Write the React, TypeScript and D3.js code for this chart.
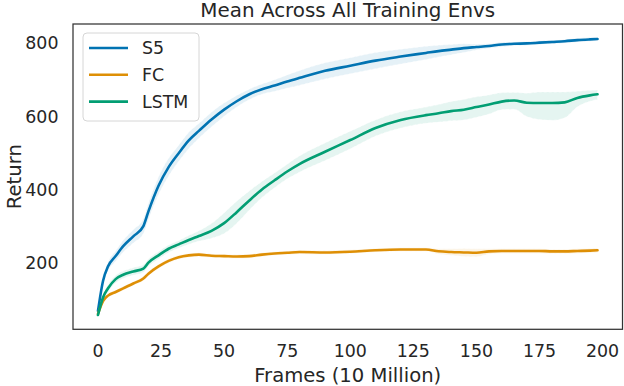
import React from "react";
import * as d3 from "d3";

const frames = [0, 2, 4, 7, 10, 14, 18, 20, 24, 28, 32, 36, 40, 45, 50, 55, 60, 65, 70, 75, 80, 90, 100, 110, 120, 130, 135, 140, 145, 150, 155, 160, 165, 170, 175, 180, 185, 190, 195, 198];

const s5Mean = [68, 150, 190, 218, 245, 272, 300, 340, 410, 461, 499, 534, 560, 591, 618, 641, 660, 674, 684, 695, 705, 724, 738, 752, 763, 773, 778, 782, 786, 789, 792, 796, 798, 799, 801, 803, 805, 808, 810, 811];
const s5Err = [4, 8, 12, 14, 16, 18, 20, 22, 24, 24, 22, 22, 20, 20, 18, 16, 14, 14, 16, 18, 20, 22, 22, 22, 20, 18, 16, 14, 12, 8, 6, 6, 5, 5, 5, 5, 5, 5, 5, 5];

const fcMean = [60, 95, 110, 120, 130, 143, 157, 170, 190, 205, 215, 220, 222, 219, 218, 217, 218, 222, 225, 227, 229, 228, 230, 234, 236, 236, 231, 229, 228, 227, 231, 232, 232, 232, 232, 231, 231, 232, 233, 234];
const fcErr = [3, 5, 5, 5, 5, 5, 6, 6, 6, 6, 5, 5, 5, 5, 5, 5, 5, 5, 5, 5, 5, 5, 5, 5, 5, 5, 7, 9, 11, 11, 7, 6, 6, 6, 6, 6, 6, 6, 6, 6];

const lstmMean = [57, 105, 130, 155, 167, 176, 184, 200, 220, 238, 250, 262, 273, 287, 308, 338, 370, 400, 425, 449, 470, 503, 535, 568, 590, 603, 608, 614, 618, 625, 632, 640, 643, 637, 636, 636, 638, 650, 657, 660];
const lstmErrLo = [3, 8, 10, 10, 10, 10, 10, 10, 10, 10, 10, 12, 14, 20, 28, 30, 26, 22, 20, 20, 22, 24, 24, 22, 22, 22, 24, 26, 28, 28, 26, 22, 24, 38, 45, 47, 42, 24, 16, 14];
const lstmErrHi = [3, 8, 10, 10, 10, 10, 10, 10, 10, 10, 10, 12, 14, 20, 28, 30, 26, 22, 20, 20, 22, 24, 24, 22, 22, 22, 24, 26, 28, 28, 26, 24, 22, 26, 30, 30, 28, 18, 14, 12];

const xTicks = [0, 25, 50, 75, 100, 125, 150, 175, 200];
const yTicks = [200, 400, 600, 800];

const seriesNames = ["S5", "FC", "LSTM"];
const seriesColors = ["#0173b2", "#de8f05", "#029e73"];

const W = 624;
const H = 386;
const plotLeft = 73;
const plotRight = 622.5;
const plotTop = 24;
const plotBottom = 329.3;
const FONT = "DejaVu Sans";
const TEXT = "#262626";

export default function App() {
  const x = d3.scaleLinear().domain([-9.9, 207.9]).range([plotLeft, plotRight]);
  const y = d3.scaleLinear().domain([18, 852]).range([plotBottom, plotTop]);

  const series = [
    { name: seriesNames[0], color: seriesColors[0], mean: s5Mean, lo: s5Err, hi: s5Err },
    { name: seriesNames[1], color: seriesColors[1], mean: fcMean, lo: fcErr, hi: fcErr },
    { name: seriesNames[2], color: seriesColors[2], mean: lstmMean, lo: lstmErrLo, hi: lstmErrHi },
  ];

  const line = d3
    .line<number>()
    .x((_, i) => x(frames[i]))
    .y((d) => y(d))
    .curve(d3.curveMonotoneX);

  return (
    <svg
      width={W}
      height={H}
      style={{ position: "absolute", left: 0, top: 0, background: "#fff" }}
      fontFamily={FONT}
    >
      <rect x={0} y={0} width={W} height={H} fill="#fff" />
      <defs>
        <clipPath id="plotClip">
          <rect x={plotLeft} y={plotTop} width={plotRight - plotLeft} height={plotBottom - plotTop} />
        </clipPath>
      </defs>
      <g clipPath="url(#plotClip)">
        {series.map((s) => {
          const area = d3
            .area<number>()
            .x((_, i) => x(frames[i]))
            .y0((d, i) => y(d - s.lo[i]))
            .y1((d, i) => y(d + s.hi[i]))
            .curve(d3.curveMonotoneX);
          return (
            <path
              key={s.name + "band"}
              d={area(s.mean) || ""}
              fill={s.color}
              fillOpacity={0.1}
              stroke="#fff"
              strokeOpacity={0.6}
              strokeWidth={0.8}
              strokeDasharray="3 2"
            />
          );
        })}
        {series.map((s) => (
          <path key={s.name} d={line(s.mean) || ""} fill="none" stroke={s.color} strokeWidth={2.6} strokeLinejoin="round" strokeLinecap="round" />
        ))}
      </g>
      <rect x={plotLeft} y={plotTop} width={plotRight - plotLeft} height={plotBottom - plotTop} fill="none" stroke="#333" strokeWidth={1.25} />
      {xTicks.map((t) => (
        <text key={"x" + t} x={x(t)} y={356.5} textAnchor="middle" fontSize={17.4} fill={TEXT}>
          {t}
        </text>
      ))}
      {yTicks.map((t) => (
        <text key={"y" + t} x={58.5} y={y(t)} dy="0.36em" textAnchor="end" fontSize={17.4} fill={TEXT}>
          {t}
        </text>
      ))}
      <text x={(plotLeft + plotRight) / 2} y={381.5} textAnchor="middle" fontSize={19.6} fill={TEXT}>
        Frames (10 Million)
      </text>
      <text transform={`translate(21,${(plotTop + plotBottom) / 2}) rotate(-90)`} textAnchor="middle" fontSize={19.6} fill={TEXT}>
        Return
      </text>
      <text x={(plotLeft + plotRight) / 2} y={16.5} textAnchor="middle" fontSize={19.9} fill={TEXT}>
        Mean Across All Training Envs
      </text>
      <rect x={83} y={33} width={116} height={88} rx={4} fill="#fff" fillOpacity={0.8} stroke="#d6d6d6" strokeWidth={1} />
      {series.map((s, i) => (
        <g key={"leg" + s.name}>
          <line x1={89} x2={128} y1={48 + i * 26.8} y2={48 + i * 26.8} stroke={s.color} strokeWidth={2.6} />
          <text x={142} y={48 + i * 26.8} dy="0.36em" fontSize={17.4} fill={TEXT}>
            {s.name}
          </text>
        </g>
      ))}
    </svg>
  );
}
